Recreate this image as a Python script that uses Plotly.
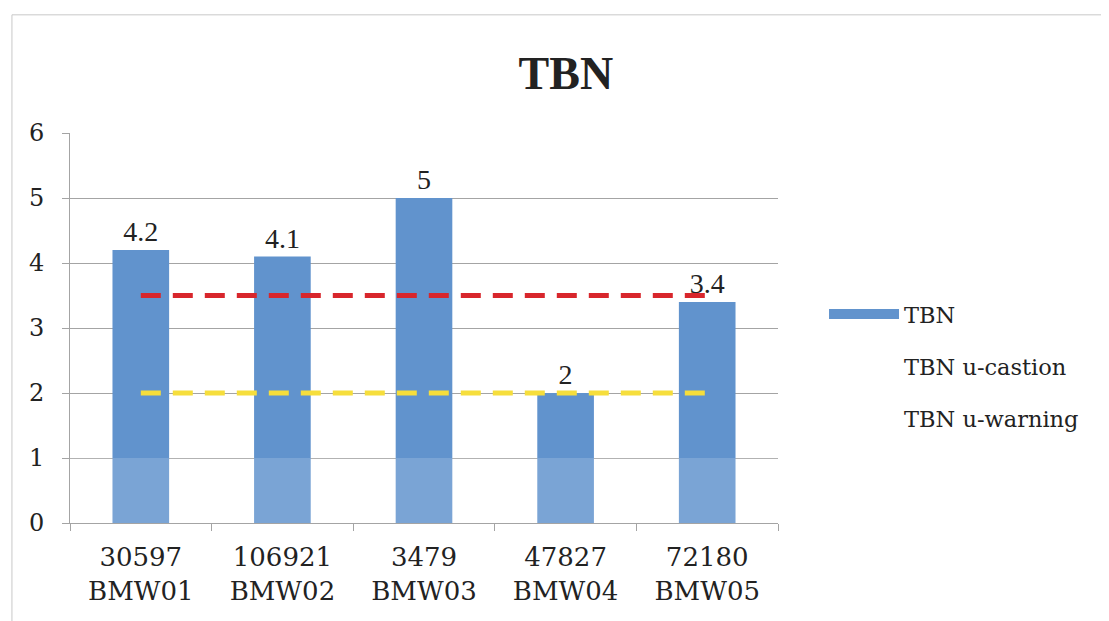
import plotly.graph_objects as go

categories = ["30597<br>BMW01", "106921<br>BMW02", "3479<br>BMW03", "47827<br>BMW04", "72180<br>BMW05"]
tbn = [4.2, 4.1, 5, 2, 3.4]
tbn_caution = [3.5, 3.5, 3.5, 3.5, 3.5]
tbn_warning = [2, 2, 2, 2, 2]

serif_narrow = "Liberation Serif"
serif_wide = "DejaVu Serif"
bar_color = "#6193cd"

fig = go.Figure()
fig.add_trace(go.Bar(
    x=categories, y=tbn, name="TBN", showlegend=False,
    marker=dict(color=bar_color, line=dict(width=0)),
    width=0.4,
    text=[str(v) for v in tbn], textposition="outside",
    textfont=dict(size=28, color="#222222", family=serif_narrow),
    cliponaxis=False,
))
fig.add_trace(go.Scatter(
    x=categories, y=tbn_caution, mode="lines", showlegend=False,
    line=dict(color="#d8262c", width=5, dash="20px,12px"), name="TBN u-castion",
))
fig.add_trace(go.Scatter(
    x=categories, y=tbn_warning, mode="lines", showlegend=False,
    line=dict(color="#f6de3c", width=5, dash="20px,12px"), name="TBN u-warning",
))
# legend entries (reference shows a wide bar swatch and no symbol for the lines)
fig.add_trace(go.Scatter(
    x=[None], y=[None], mode="lines", name="TBN", legendgroup="a",
    line=dict(color=bar_color, width=12),
))
for i, nm in enumerate(["TBN u-castion", "TBN u-warning"]):
    fig.add_trace(go.Scatter(
        x=[None], y=[None], mode="lines", name=nm, legendgroup="g%d" % i,
        line=dict(color="rgba(0,0,0,0)", width=0),
    ))

fig.update_layout(
    width=1109, height=621,
    paper_bgcolor="white", plot_bgcolor="white",
    margin=dict(l=62, r=339, t=125, b=106),
    title=dict(text="<b>TBN</b>", x=0.503, xanchor="center", y=0.895, yanchor="middle",
               font=dict(size=46, family=serif_narrow, color="#222222")),
    font=dict(family=serif_wide, color="#222222"),
    legend=dict(x=1.065, y=0.59, xanchor="left", yanchor="top",
                font=dict(size=22.5, family=serif_wide, color="#222222"),
                tracegroupgap=20, itemwidth=70, traceorder="grouped"),
    shapes=[
        dict(type="rect", xref="paper", yref="paper", x0=-0.082, x1=1.462, y0=-0.4, y1=1.303,
             line=dict(color="#c8c8c8", width=1)),
        dict(type="rect", xref="paper", yref="y", x0=0, x1=1, y0=0, y1=1, layer="above",
             fillcolor="rgba(255,255,255,0.16)", line=dict(width=0)),
    ],
)
fig.update_yaxes(range=[0, 6], dtick=1, showgrid=True, gridcolor="#a4a4a4", gridwidth=1,
                 showline=True, linecolor="#a4a4a4", ticks="outside", ticklen=7, tickcolor="#a4a4a4",
                 ticklabelstandoff=13,
                 tickfont=dict(size=24, family=serif_wide, color="#222222"), zeroline=False)
fig.update_xaxes(showline=True, linecolor="#a4a4a4", ticks="outside", tickson="boundaries",
                 ticklen=7, tickcolor="#a4a4a4", ticklabelstandoff=11,
                 tickfont=dict(size=26, family=serif_wide, color="#222222"))

fig.write_html("out.html")
